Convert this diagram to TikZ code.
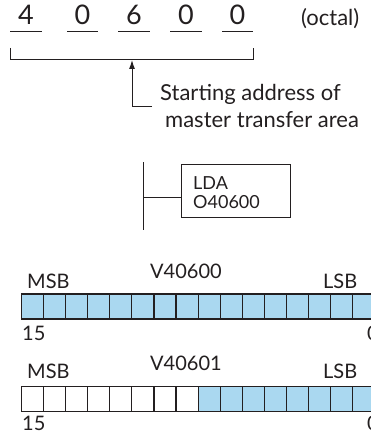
\documentclass[tikz,border=0pt]{standalone}
\usepackage{fontspec}
\setmainfont{Lato}
\usetikzlibrary{arrows.meta}
\definecolor{cellblue}{RGB}{170,216,240}
\definecolor{ink}{RGB}{35,31,32}
\begin{document}
\begin{tikzpicture}[x=1pt,y=-1pt,
  digit/.style={font=\fontsize{27}{27}\selectfont, text=ink, anchor=base, inner sep=0pt},
  lbl/.style={font=\fontsize{20}{20}\selectfont, text=ink, anchor=base west, inner sep=0pt},
  ttl/.style={font=\fontsize{22}{22}\selectfont, text=ink, anchor=base west, inner sep=0pt},
  boxtxt/.style={font=\fontsize{18}{18}\selectfont, text=ink, anchor=base west, inner sep=0pt},
  ln/.style={draw=ink, line width=1pt},
  cell/.style={draw=ink, line width=1.2pt, minimum width=22.1pt, minimum height=25pt, inner sep=0pt, anchor=north west},
  bluecell/.style={cell, fill=cellblue},
  whitecell/.style={cell, fill=white}]
\useasboundingbox (0,0) rectangle (371,433);
% digits
\foreach \d/\x [count=\i] in {4/26,0/82.5,6/134,0/186,0/237.5} {
  \node[digit] (d\i) at (\x,25) {\d};
}
\foreach \i/\a/\b in {1/10/42,2/67/98,3/118/150,4/170/202,5/222/253} {
  \coordinate (u\i a) at (\a,32);
  \coordinate (u\i b) at (\b,32);
  \draw[ln] (u\i a) -- (u\i b);
}
\node[ttl] (oct) at (301,26) {(octal)};
% bracket
\coordinate (bl) at (10,48);
\coordinate (blc) at (10,60);
\coordinate (brc) at (253,60);
\coordinate (br) at (253,48);
\draw[ln] (bl) -- (blc) -- (brc) -- (br);
\coordinate (tip) at (132,60);
\coordinate (elb) at (132,107);
\coordinate (tail) at (152,107);
\draw[ln, -{Latex[length=9pt,width=6pt]}] (tail) -- (elb) -- (tip);
\node[ttl] (s1) at (160,100) {Starting address of};
\node[ttl] (s2) at (165,127.5) {master transfer area};
% ladder
\coordinate (railt) at (143,162);
\coordinate (railb) at (143,230);
\draw[ln] (railt) -- (railb);
\node[draw=ink, line width=1pt, minimum width=109pt, minimum height=53pt, anchor=north west, inner sep=0pt] (box) at (181,164) {};
\coordinate (rung) at (143,197);
\draw[ln] (rung) -- (rung -| box.west);
\node[boxtxt] (lda) at (193,189) {LDA};
\node[boxtxt] (addr) at (193,208) {O40600};
% register 1
\foreach \i in {0,...,15} {
  \node[bluecell] (a\i) at (20.7+22.1*\i,293.3) {};
}
\node[lbl] (msb1) at (27,288) {MSB};
\node[lbl] (v1) at (150,278) {V40600};
\node[lbl] (lsb1) at (323,288) {LSB};
\node[lbl] (n15a) at (22,340) {15};
\node[lbl] (n0a) at (367,340) {0};
% register 2
\foreach \i in {0,...,7} {
  \node[whitecell] (b\i) at (20.7+22.1*\i,385.7) {};
}
\foreach \i in {8,...,15} {
  \node[bluecell] (b\i) at (20.7+22.1*\i,385.7) {};
}
\node[lbl] (msb2) at (27,378.3) {MSB};
\node[lbl] (v2) at (150,370) {V40601};
\node[lbl] (lsb2) at (323,378.3) {LSB};
\node[lbl] (n15b) at (22,430) {15};
\node[lbl] (n0b) at (367,430) {0};
\end{tikzpicture}
\end{document}
